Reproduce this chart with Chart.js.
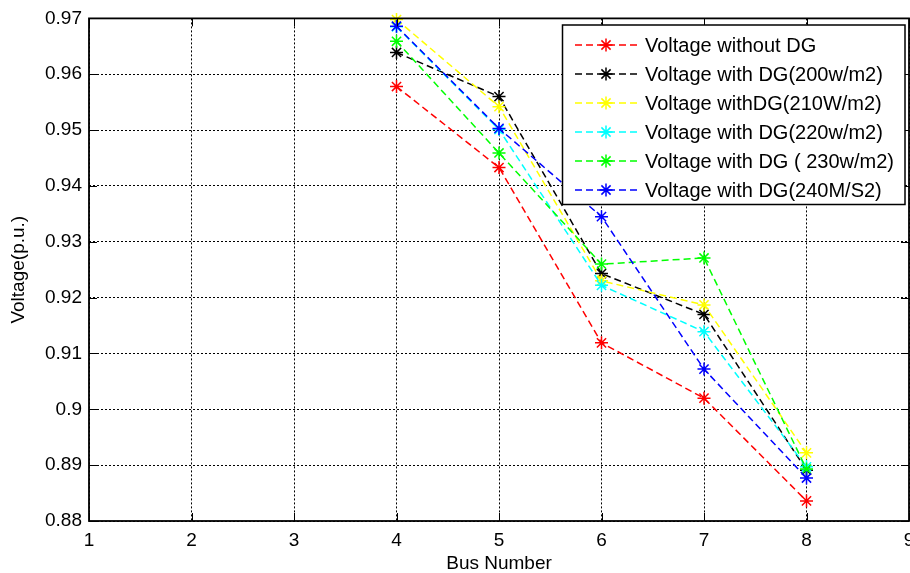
<!DOCTYPE html>
<html>
<head>
<meta charset="utf-8">
<title>Voltage profile</title>
<script src="https://cdn.jsdelivr.net/npm/chart.js@4.4.0/dist/chart.umd.min.js"></script>
<style>
    html, body { margin: 0; padding: 0; overflow: hidden; background: #fff; }
    #wrap { width: 930px; height: 573px; }
</style>
</head>
<body>
<div id="wrap"><canvas id="myChart"></canvas></div>
<script>
//region Данные
const busNumbers = [4, 5, 6, 7, 8];
const vNoDG  = [0.9578, 0.9433, 0.9119, 0.9020, 0.8836];
const vDG200 = [0.9639, 0.9560, 0.9243, 0.9170, 0.8891];
const vDG210 = [0.9698, 0.9542, 0.9230, 0.9187, 0.8922];
const vDG220 = [0.9685, 0.9501, 0.9222, 0.9139, 0.8897];
const vDG230 = [0.9659, 0.9459, 0.9260, 0.9271, 0.8893];
const vDG240 = [0.9686, 0.9503, 0.9345, 0.9072, 0.8877];

const seriesLabels = [
    'Voltage without DG',
    'Voltage with DG(200w/m2)',
    'Voltage withDG(210W/m2)',
    'Voltage with DG(220w/m2)',
    'Voltage with DG ( 230w/m2)',
    'Voltage with DG(240M/S2)'
];
const seriesColors = ['#ff0000', '#000000', '#ffff00', '#00ffff', '#00ff00', '#0000ff'];

const xTicks = [1, 2, 3, 4, 5, 6, 7, 8, 9];
const yTicks = [0.88, 0.89, 0.90, 0.91, 0.92, 0.93, 0.94, 0.95, 0.96, 0.97];
//endregion

const FONT = 'Liberation Sans, Arial, Helvetica, sans-serif';

function points(values) {
    return busNumbers.map((b, i) => ({x: b, y: values[i]}));
}

// звёздочка как в MATLAB '*'
function drawStar(ctx, x, y, r) {
    ctx.beginPath();
    for (let k = 0; k < 4; k++) {
        let a = k * Math.PI / 4;
        ctx.moveTo(x - Math.cos(a) * r, y - Math.sin(a) * r);
        ctx.lineTo(x + Math.cos(a) * r, y + Math.sin(a) * r);
    }
    ctx.stroke();
}

//region Рамка, внутренние засечки и легенда
const matlabFrame = {
    id: 'matlabFrame',
    afterDraw(chart) {
        const ctx = chart.ctx;
        const a = chart.chartArea;
        const xs = chart.scales.x, ys = chart.scales.y;
        const tl = 8;
        ctx.save();
        ctx.strokeStyle = '#000';
        ctx.setLineDash([]);
        ctx.lineWidth = 1;
        ctx.beginPath();
        xTicks.forEach(v => {
            let px = Math.round(xs.getPixelForValue(v)) + 0.5;
            ctx.moveTo(px, a.bottom); ctx.lineTo(px, a.bottom - tl);
            ctx.moveTo(px, a.top); ctx.lineTo(px, a.top + tl);
        });
        yTicks.forEach(v => {
            let py = Math.round(ys.getPixelForValue(v)) + 0.5;
            ctx.moveTo(a.left, py); ctx.lineTo(a.left + tl, py);
            ctx.moveTo(a.right, py); ctx.lineTo(a.right - tl, py);
        });
        ctx.stroke();
        ctx.lineWidth = 1.8;
        ctx.strokeRect(a.left, a.top, a.right - a.left, a.bottom - a.top);

        // легенда
        const box = {left: 562.5, top: 25, right: 905, bottom: 204.5};
        ctx.fillStyle = '#fff';
        ctx.fillRect(box.left, box.top, box.right - box.left, box.bottom - box.top);
        ctx.lineWidth = 1.5;
        ctx.strokeRect(box.left, box.top, box.right - box.left, box.bottom - box.top);
        ctx.font = '20px ' + FONT;
        ctx.textBaseline = 'middle';
        ctx.textAlign = 'left';
        chart.data.datasets.forEach((ds, i) => {
            let y = 45 + i * 29;
            ctx.strokeStyle = ds.borderColor;
            ctx.lineWidth = 1.5;
            ctx.setLineDash([7, 4]);
            ctx.beginPath();
            ctx.moveTo(575, y);
            ctx.lineTo(638, y);
            ctx.stroke();
            ctx.setLineDash([]);
            drawStar(ctx, 606, y, 6.5);
            ctx.fillStyle = '#000';
            ctx.fillText(ds.label, 645, y + 1);
        });
        ctx.restore();
    }
};
//endregion

//region Инициализация графика
const allSeries = [vNoDG, vDG200, vDG210, vDG220, vDG230, vDG240];
const datasets = allSeries.map((vals, i) => ({
    label: seriesLabels[i],
    data: points(vals),
    borderColor: seriesColors[i],
    backgroundColor: seriesColors[i],
    borderWidth: 1.5,
    borderDash: [7, 4],
    pointStyle: 'star',
    pointRadius: 6.5,
    pointBorderWidth: 1.5,
    pointBorderColor: seriesColors[i],
    order: allSeries.length - i, // последняя серия поверх, как в MATLAB
    clip: false,
    tension: 0
}));

const ctx = document.getElementById('myChart');
let chart = new Chart(ctx, {
    type: 'line',
    data: {datasets: datasets},
    options: {
        responsive: true,
        maintainAspectRatio: false,
        animation: false,
        devicePixelRatio: 1,
        layout: {padding: {top: 17, right: 21, bottom: 0, left: 0}},
        plugins: {
            legend: {display: false},
            tooltip: {enabled: false}
        },
        scales: {
            x: {
                type: 'linear',
                min: 1,
                max: 9,
                afterBuildTicks: s => { s.ticks = xTicks.map(v => ({value: v})); },
                afterFit: s => { s.height = 52; },
                grid: {color: '#000', lineWidth: 1, drawTicks: false},
                border: {display: false, dash: [2, 2]},
                ticks: {
                    color: '#000',
                    padding: 8,
                    maxRotation: 0,
                    font: {family: FONT, size: 19},
                    callback: v => String(v)
                },
                title: {
                    display: true,
                    text: 'Bus Number',
                    color: '#000',
                    padding: {top: 0, bottom: 0},
                    font: {family: FONT, size: 19, lineHeight: 1}
                }
            },
            y: {
                type: 'linear',
                min: 0.88,
                max: 0.97,
                afterBuildTicks: s => { s.ticks = yTicks.map(v => ({value: v})); },
                afterFit: s => { s.width = 89; },
                grid: {color: '#000', lineWidth: 1, drawTicks: false},
                border: {display: false, dash: [2, 2]},
                ticks: {
                    color: '#000',
                    padding: 7,
                    font: {family: FONT, size: 19},
                    callback: v => String(Math.round(v * 100) / 100)
                },
                title: {
                    display: true,
                    text: 'Voltage(p.u.)',
                    color: '#000',
                    padding: {top: 7, bottom: 0},
                    font: {family: FONT, size: 19, lineHeight: 1.2}
                }
            }
        }
    },
    plugins: [matlabFrame]
});
//endregion
</script>
</body>
</html>
